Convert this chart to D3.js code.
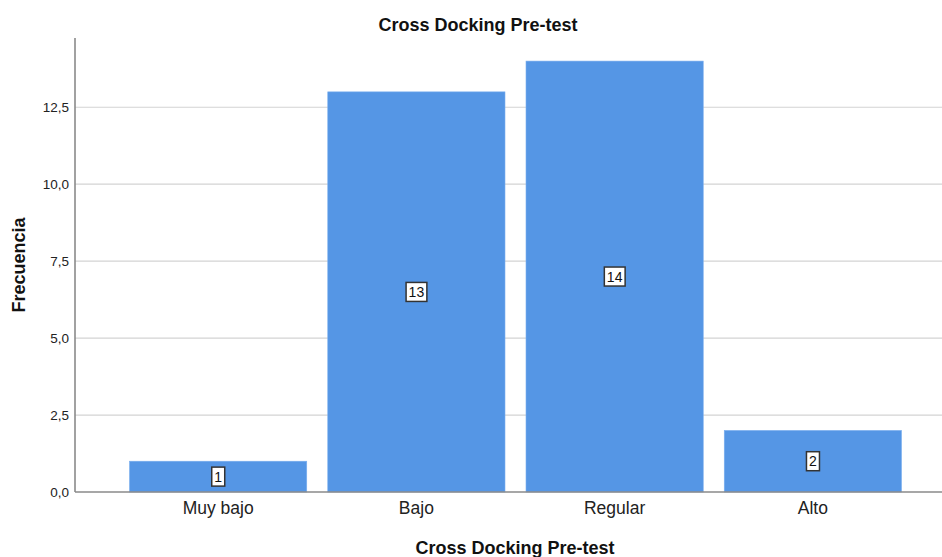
<!DOCTYPE html>
<html><head><meta charset="utf-8">
<script src="https://cdn.jsdelivr.net/npm/d3@7"></script>
<style>body{margin:0;background:#fff}svg{display:block}text{font-family:"Liberation Sans",Arial,sans-serif}</style>
</head><body><svg id="c" width="942" height="557"></svg>
<script>
const categories = ["Muy bajo", "Bajo", "Regular", "Alto"];
const values = [1, 13, 14, 2];
const yTicks = [0, 2.5, 5, 7.5, 10, 12.5];
const title = "Cross Docking Pre-test";
const xTitle = "Cross Docking Pre-test";
const yTitle = "Frecuencia";

const svg = d3.select("#c");
const mLeft = 75, mBottom = 492, mTop = 38;
const x = d3.scaleBand().domain(categories).range([mLeft, 956]).paddingInner(0.106).paddingOuter(0.275);
const y = d3.scaleLinear().domain([0, 14.75]).range([mBottom, mTop]);
const fmt = d => d3.format(".1f")(d).replace(".", ",");

// gridlines
svg.append("g").selectAll("line").data(yTicks.filter(d => d > 0)).join("line")
  .attr("x1", mLeft).attr("x2", 942).attr("y1", d => y(d)).attr("y2", d => y(d))
  .attr("stroke", "#d3d3d3").attr("stroke-width", 1.2);

// bars
svg.append("g").selectAll("rect").data(values).join("rect")
  .attr("x", (d, i) => x(categories[i])).attr("width", x.bandwidth())
  .attr("y", d => y(d)).attr("height", d => mBottom - y(d))
  .attr("fill", "#5596e5").attr("stroke", "#7aaeee").attr("stroke-width", 0.6);

// y axis
const ya = svg.append("g").attr("transform", `translate(${mLeft},0)`)
  .call(d3.axisLeft(y).tickValues(yTicks).tickFormat(fmt).tickSize(0).tickPadding(6));
ya.select(".domain").attr("stroke", "#8a8a8a").attr("stroke-width", 1.6).attr("d", `M0,${mTop}V${mBottom}`);
ya.selectAll("text").attr("font-size", 13.5).attr("fill", "#222");

// x axis
const xa = svg.append("g").attr("transform", `translate(0,${mBottom})`)
  .call(d3.axisBottom(x).tickSize(0).tickPadding(10));
xa.select(".domain").attr("stroke", "#8a8a8a").attr("stroke-width", 1.6).attr("d", `M${mLeft},0H942`);
xa.selectAll("text").attr("font-size", 17.5).attr("fill", "#222");

// value labels
const lg = svg.append("g").selectAll("g").data(values).join("g")
  .attr("transform", (d, i) => `translate(${x(categories[i]) + x.bandwidth() / 2},${(y(d) + mBottom) / 2})`);
lg.append("text").attr("text-anchor", "middle").attr("dy", "0.36em")
  .attr("font-size", 14).attr("fill", "#111").text(d => d);
lg.each(function () {
  const g = d3.select(this), t = g.select("text"), b = t.node().getBBox();
  g.insert("rect", "text").attr("x", b.x - 2.5).attr("y", -9.5).attr("width", b.width + 5).attr("height", 19)
    .attr("fill", "#fff").attr("stroke", "#333").attr("stroke-width", 1.5);
});

// titles
svg.append("text").attr("x", 478).attr("y", 31).attr("text-anchor", "middle")
  .attr("font-size", 18).attr("font-weight", "bold").attr("fill", "#111").text(title);
svg.append("text").attr("x", 515).attr("y", 554).attr("text-anchor", "middle")
  .attr("font-size", 18).attr("font-weight", "bold").attr("fill", "#111").text(xTitle);
svg.append("text").attr("transform", "translate(25,265) rotate(-90)").attr("text-anchor", "middle")
  .attr("font-size", 18).attr("font-weight", "bold").attr("fill", "#111").text(yTitle);
</script></body></html>
